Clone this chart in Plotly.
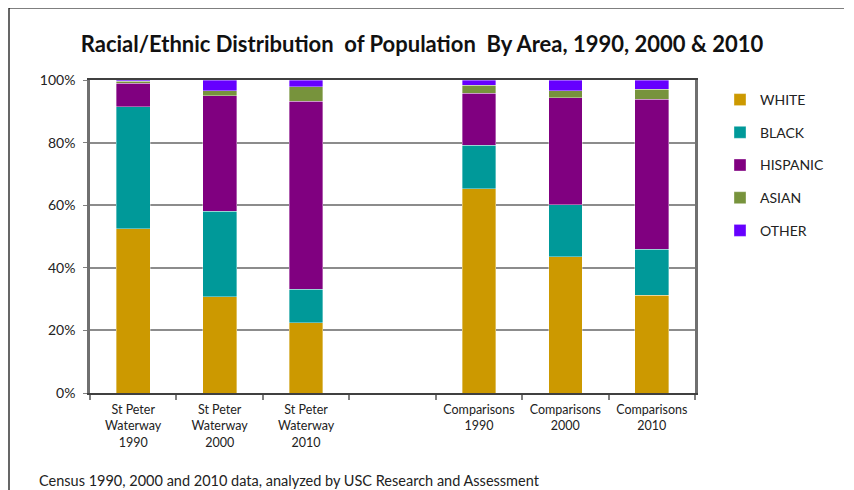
import plotly.graph_objects as go

categories = ["St Peter<br>Waterway<br>1990", "St Peter<br>Waterway<br>2000", "St Peter<br>Waterway<br>2010",
              " ", "Comparisons<br>1990", "Comparisons<br>2000", "Comparisons<br>2010"]
white = [52.4, 30.8, 22.4, None, 65.2, 43.5, 31.3]
black = [39.0, 27.3, 10.8, None, 14.0, 16.6, 14.7]
hispanic = [7.5, 36.9, 60.0, None, 16.5, 34.2, 47.8]
asian = [0.7, 1.5, 4.6, None, 2.7, 2.2, 3.2]
other = [0.4, 3.5, 2.2, None, 1.6, 3.5, 3.0]
series_names = ["WHITE", "BLACK", "HISPANIC", "ASIAN", "OTHER"]
series_values = [white, black, hispanic, asian, other]
colors = ["#CC9900", "#009999", "#800080", "#77933C", "#6600FF"]
y_ticks = [0, 20, 40, 60, 80, 100]

# page has an 8px body margin; work in page pixels and convert
OFF = 8
W, H = 854 - OFF, 490 - OFF
L, R, T, B = 90 - OFF, 695 - OFF, 80 - OFF, 393 - OFF

def px(x):
    return (x - OFF - L) / (R - L)

def py(y):
    return (B - (y - OFF)) / (B - T)

fig = go.Figure()
for name, vals, col in zip(series_names, series_values, colors):
    fig.add_trace(go.Bar(
        x=categories, y=vals, name=name, legendgroup=name,
        marker=dict(color=col, line=dict(color="rgba(255,255,255,0.6)", width=0.6)),
    ))

fam = "Lato, sans-serif"

fig.update_layout(
    width=W, height=H,
    barmode="stack", bargap=0.61,
    paper_bgcolor="white", plot_bgcolor="white",
    margin=dict(l=L, r=W - R, t=T, b=H - B, pad=0),
    font=dict(family=fam, color="#222222", size=13),
    title=dict(text="<b>Racial/Ethnic Distribution  of Population  By Area, 1990, 2000 & 2010</b>",
               x=(422 - OFF) / W, xanchor="center", y=1 - (44 - OFF) / H, yanchor="middle",
               font=dict(size=22, family=fam, color="#111111")),
    legend=dict(x=px(720), xanchor="left", y=py(84), yanchor="top",
                traceorder="grouped", tracegroupgap=11.5,
                font=dict(size=14, family=fam, color="#222222"),
                itemwidth=30, bgcolor="rgba(0,0,0,0)"),
    showlegend=True,
)
fig.update_xaxes(
    type="category", showgrid=False,
    showline=True, linecolor="#404040", linewidth=2, mirror=True,
    ticks="outside", tickson="boundaries", ticklen=5, tickcolor="#808080", tickwidth=1.5,
    ticklabelstandoff=4,
    tickfont=dict(size=12.5, family=fam, color="#222222"),
)
fig.update_yaxes(
    range=[0, 100], tickvals=y_ticks, ticktext=[f"{v}%" for v in y_ticks],
    showgrid=True, gridcolor="#8c8c8c", gridwidth=1.5,
    showline=True, linecolor="#707070", linewidth=2.5, mirror=True,
    ticks="outside", ticklen=4, tickcolor="#808080",
    ticklabelstandoff=5,
    tickfont=dict(size=14, family=fam, color="#222222"),
    zeroline=False,
)
# outer chart frame (left and top edges)
fig.add_shape(type="line", xref="paper", yref="paper", x0=px(9), x1=px(9), y0=py(8), y1=py(495),
              line=dict(color="#000000", width=1.2))
fig.add_shape(type="line", xref="paper", yref="paper", x0=px(9), x1=px(844), y0=py(8), y1=py(8),
              line=dict(color="#000000", width=1.2))
fig.add_annotation(text="Census 1990, 2000 and 2010 data, analyzed by USC Research and Assessment",
                   xref="paper", yref="paper", x=px(37), y=py(470), xanchor="left", yanchor="top",
                   showarrow=False, font=dict(size=14.5, family=fam, color="#222222"))

fig.write_html("out.html")
